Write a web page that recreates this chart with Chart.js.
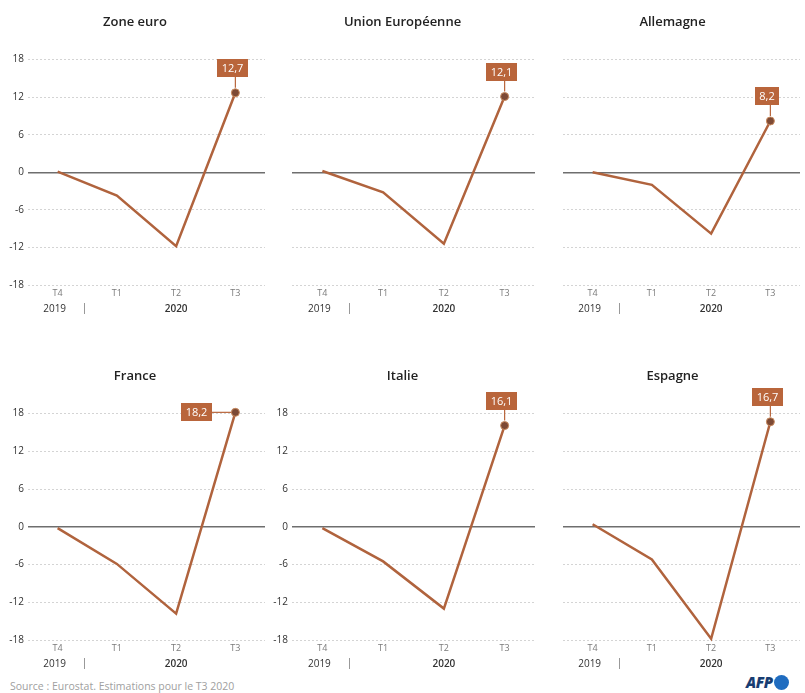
<!DOCTYPE html>
<html>
<head>
<meta charset="utf-8">
<script src="https://cdn.jsdelivr.net/npm/chart.js@4"></script>
<style>
  body { margin: 0; background: #fff; width: 805px; height: 693px; position: relative; overflow: hidden; font-family: 'Open Sans', sans-serif; }
  canvas.panel { position: absolute; }
  #source { position: absolute; left: 10px; top: 679px; font-size: 10.5px; color: #a0a0a0; white-space: nowrap; }
  #afp { position: absolute; left: 746px; top: 673px; height: 18px; display: flex; align-items: center; }
  #afp span { font: italic 800 15px 'Open Sans', sans-serif; color: #183d72; letter-spacing: -0.5px; }
  #afp i { display: inline-block; width: 15px; height: 15px; border-radius: 50%; background: #1f6cc0; margin-left: 1px; }
</style>
</head>
<body>
<div id="source">Source : Eurostat. Estimations pour le T3 2020</div>
<div id="afp"><span>AFP</span><i></i></div>
<script>
// quarterly GDP change (%), T4 2019 -> T3 2020
const quarters = ['T4', 'T1', 'T2', 'T3'];
const years = ['2019', '2020'];
const yTicks = [-18, -12, -6, 0, 6, 12, 18];

const zoneEuro = [0.1, -3.7, -11.8, 12.7];
const unionEuropeenne = [0.2, -3.2, -11.4, 12.1];
const allemagne = [0.0, -2.0, -9.8, 8.2];
const france = [-0.2, -5.9, -13.8, 18.2];
const italie = [-0.2, -5.5, -13.0, 16.1];
const espagne = [0.4, -5.2, -17.8, 16.7];

const panelTitles = ['Zone euro', 'Union Européenne', 'Allemagne', 'France', 'Italie', 'Espagne'];
const panelSeries = [zoneEuro, unionEuropeenne, allemagne, france, italie, espagne];

const C = {
  line: '#b0633d', dot: '#7d4a35', box: '#b9653b',
  grid: '#d4d4d4', zero: '#6e6e6e', text: '#333', tick: '#7a7a7a',
  font: "'Open Sans', sans-serif"
};

const cols = [
  { left: 0, width: 270, axisW: 28, padR: 0 },
  { left: 270, width: 270, axisW: 22, padR: 5 },
  { left: 540, width: 265, axisW: 23, padR: 0 }
];
const rows = [{ top: 0, height: 325 }, { top: 354, height: 326 }];

const fmt = v => v.toFixed(1).replace('.', ',');

// value box on the last point of the series
const callout = {
  id: 'callout',
  afterDatasetsDraw(chart, args, opts) {
    const meta = chart.getDatasetMeta(0);
    const i = meta.data.length - 1;
    const pt = meta.data[i];
    const txt = fmt(chart.data.datasets[0].data[i]);
    const ctx = chart.ctx;
    ctx.save();
    ctx.font = '11px ' + C.font;
    const w = Math.round(ctx.measureText(txt).width + 9), h = 18;
    let bx, by;
    ctx.strokeStyle = C.box; ctx.lineWidth = 1.2;
    ctx.beginPath();
    if (opts.side === 'left') {
      bx = Math.round(pt.x - 23 - w); by = Math.round(pt.y - h / 2);
      ctx.moveTo(bx + w, pt.y); ctx.lineTo(pt.x - 4, pt.y);
    } else {
      bx = Math.round(pt.x - 3 - w / 2); by = Math.round(pt.y - 16 - h);
      ctx.moveTo(pt.x, by + h); ctx.lineTo(pt.x, pt.y - 5);
    }
    ctx.stroke();
    ctx.fillStyle = C.box;
    ctx.fillRect(bx, by, w, h);
    ctx.fillStyle = '#fff';
    ctx.textAlign = 'center'; ctx.textBaseline = 'middle';
    ctx.fillText(txt, bx + w / 2, by + h / 2 + 1);
    ctx.restore();
  }
};

// second row of the x axis: years and separator
const yearRow = {
  id: 'yearRow',
  afterDraw(chart) {
    const x = chart.scales.x, ctx = chart.ctx;
    const y = chart.chartArea.bottom + 24;
    const p0 = x.getPixelForValue(0), p1 = x.getPixelForValue(1), p2 = x.getPixelForValue(2);
    ctx.save();
    ctx.textAlign = 'center'; ctx.textBaseline = 'middle'; ctx.fillStyle = C.text;
    ctx.font = '10px ' + C.font;
    ctx.fillText(years[0], p0 - 3, y);
    ctx.font = '600 10px ' + C.font;
    ctx.fillText(years[1], p2, y);
    const sx = Math.round(p0 + (p1 - p0) * 0.44) + 0.5;
    ctx.strokeStyle = '#999'; ctx.lineWidth = 1;
    ctx.beginPath(); ctx.moveTo(sx, y - 6); ctx.lineTo(sx, y + 5); ctx.stroke();
    ctx.restore();
  }
};

function panel(idx) {
  const col = cols[idx % 3], row = rows[Math.floor(idx / 3)];
  const cv = document.createElement('canvas');
  cv.className = 'panel';
  cv.width = col.width; cv.height = row.height;
  cv.style.left = col.left + 'px'; cv.style.top = row.top + 'px';
  cv.style.width = col.width + 'px'; cv.style.height = row.height + 'px';
  document.body.appendChild(cv);

  const data = panelSeries[idx];
  new Chart(cv.getContext('2d'), {
    type: 'line',
    data: {
      labels: quarters,
      datasets: [{
        data, clip: false,
        borderColor: C.line, borderWidth: 2.5, tension: 0,
        pointRadius: data.map((v, i) => i === data.length - 1 ? 4 : 0),
        pointBackgroundColor: C.dot, pointBorderColor: '#c98a5e', pointBorderWidth: 1
      }]
    },
    options: {
      responsive: false, animation: false,
      layout: { padding: { top: 0, left: 0, right: col.padR, bottom: 26 } },
      plugins: {
        legend: { display: false }, tooltip: { enabled: false },
        title: {
          display: true, text: panelTitles[idx], color: '#222',
          font: { family: C.font, size: 13, weight: '600' },
          padding: { top: 14, bottom: 30 }
        },
        callout: { side: idx === 3 ? 'left' : 'top' }
      },
      scales: {
        x: {
          offset: true,
          grid: { display: false, drawTicks: false }, border: { display: false },
          ticks: { color: C.tick, font: { family: C.font, size: 9 }, padding: 3, maxRotation: 0, autoSkip: false },
          afterFit: s => { s.height = 14; }
        },
        y: {
          min: -18, max: 18,
          afterBuildTicks: s => { s.ticks = yTicks.map(value => ({ value })); },
          grid: {
            drawTicks: false,
            color: c => c.tick && c.tick.value === 0 ? C.zero : C.grid,
            lineWidth: c => c.tick && c.tick.value === 0 ? 1.6 : 1
          },
          border: { display: false, dash: c => c.tick && c.tick.value === 0 ? [] : [2, 2] },
          ticks: {
            display: idx % 3 === 0 || idx === 4,
            color: C.text, padding: 4,
            font: { family: C.font, size: 10 }
          },
          afterFit: s => { s.width = col.axisW; }
        }
      }
    },
    plugins: [callout, yearRow]
  });
}

for (let i = 0; i < panelSeries.length; i++) panel(i);
</script>
</body>
</html>
